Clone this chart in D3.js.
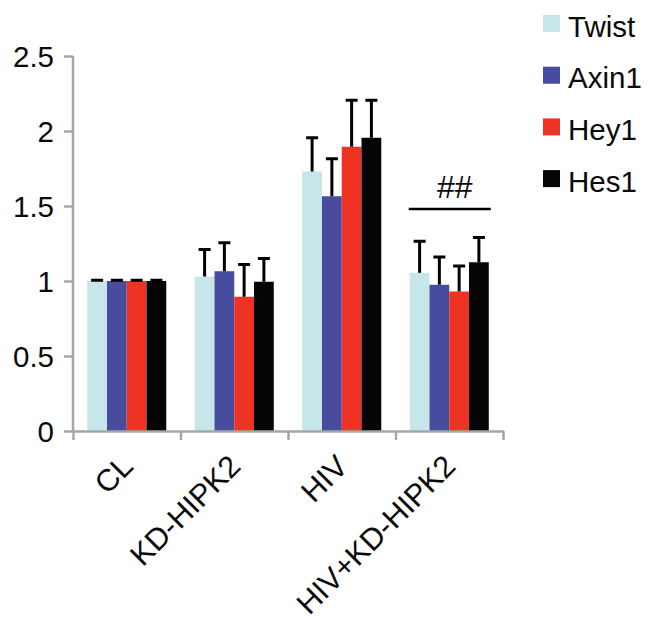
<!DOCTYPE html>
<html>
<head>
<meta charset="utf-8">
<script src="https://cdn.jsdelivr.net/npm/d3@7/dist/d3.min.js"></script>
<style>
  html, body { margin: 0; padding: 0; background: #fff; }
  svg { display: block; font-family: "Liberation Sans", Arial, sans-serif; }
</style>
</head>
<body>
<svg id="chart" width="650" height="622"></svg>
<script>
// Relative expression per condition (mean and error)
const categories = ["CL", "KD-HIPK2", "HIV", "HIV+KD-HIPK2"];
const series = ["Twist", "Axin1", "Hey1", "Hes1"];
const colors = ["#c7e6ea", "#474c9f", "#ee3224", "#050505"];

const twistMean = [1.00, 1.03, 1.73, 1.055];
const axin1Mean = [1.00, 1.065, 1.565, 0.975];
const hey1Mean  = [1.00, 0.895, 1.895, 0.93];
const hes1Mean  = [1.00, 0.995, 1.955, 1.125];

const twistErr = [0.005, 0.18, 0.225, 0.21];
const axin1Err = [0.005, 0.19, 0.25, 0.185];
const hey1Err  = [0.005, 0.215, 0.31, 0.17];
const hes1Err  = [0.005, 0.155, 0.25, 0.165];

const yTicks = [0, 0.5, 1, 1.5, 2, 2.5];
const yTickLabels = ["0", "0.5", "1", "1.5", "2", "2.5"];

// Significance marker over one group
const sigCategory = "HIV+KD-HIPK2";
const sigLabel = "##";
const sigLevel = 1.48;

const means = [twistMean, axin1Mean, hey1Mean, hes1Mean];
const errs = [twistErr, axin1Err, hey1Err, hes1Err];

const rows = [];
categories.forEach((c, ci) => {
  series.forEach((s, si) => {
    rows.push({ cat: c, ser: s, si, value: means[si][ci], err: errs[si][ci] });
  });
});

const svg = d3.select("#chart");
const plotLeft = 73, plotRight = 503, plotTop = 56, plotBottom = 431;
const fontSize = 29.5;
const catFontSize = 30.5;
const axisColor = "#a6a6a6";
const textColor = "#0a0a0a";

const x0 = d3.scaleBand().domain(categories).range([plotLeft, plotRight]).paddingInner(0).paddingOuter(0);
const x1 = d3.scaleBand().domain(series).range([0, x0.bandwidth()]).paddingInner(0).paddingOuter(0.72);
const y = d3.scaleLinear().domain([0, 2.5]).range([plotBottom, plotTop]);
const color = d3.scaleOrdinal().domain(series).range(colors);

// Bars
const g = svg.append("g");
g.selectAll("rect.bar")
  .data(rows)
  .join("rect")
  .attr("class", "bar")
  .attr("x", d => x0(d.cat) + x1(d.ser))
  .attr("y", d => y(d.value))
  .attr("width", x1.bandwidth())
  .attr("height", d => y(0) - y(d.value))
  .attr("fill", d => color(d.ser));

// Upper error bars
const eb = g.selectAll("g.err").data(rows).join("g").attr("class", "err");
eb.append("line")
  .attr("x1", d => x0(d.cat) + x1(d.ser) + x1.bandwidth() / 2)
  .attr("x2", d => x0(d.cat) + x1(d.ser) + x1.bandwidth() / 2)
  .attr("y1", d => y(d.value))
  .attr("y2", d => y(d.value + d.err))
  .attr("stroke", "#000").attr("stroke-width", 3);
eb.append("line")
  .attr("x1", d => x0(d.cat) + x1(d.ser) + x1.bandwidth() / 2 - 6)
  .attr("x2", d => x0(d.cat) + x1(d.ser) + x1.bandwidth() / 2 + 6)
  .attr("y1", d => y(d.value + d.err))
  .attr("y2", d => y(d.value + d.err))
  .attr("stroke", "#000").attr("stroke-width", 3);

// Y axis
const yAxis = d3.axisLeft(y).tickValues(yTicks).tickFormat((d, i) => yTickLabels[i]).tickSize(9).tickPadding(10);
const ya = svg.append("g").attr("transform", `translate(${plotLeft},0)`).call(yAxis);
ya.select(".domain").attr("stroke", axisColor).attr("stroke-width", 2.5).attr("d", `M0,${plotTop}V${plotBottom}`);
ya.selectAll(".tick line").attr("stroke", axisColor).attr("stroke-width", 2.5);
ya.selectAll(".tick text").attr("fill", textColor).attr("dy", "0.36em")
  .style("font-size", fontSize + "px").style("font-family", "Liberation Sans, Arial, sans-serif");

// X axis with ticks at group boundaries
const boundaries = categories.map(c => x0(c)).concat([plotRight]);
const xb = d3.scaleLinear().domain([plotLeft, plotRight]).range([plotLeft, plotRight]);
const xAxis = d3.axisBottom(xb).tickValues(boundaries).tickFormat("").tickSize(9).tickSizeOuter(0);
const xa = svg.append("g").attr("transform", `translate(0,${plotBottom})`).call(xAxis);
xa.select(".domain").attr("stroke", axisColor).attr("stroke-width", 2.5);
xa.selectAll(".tick line").attr("stroke", axisColor).attr("stroke-width", 2.5);

// Rotated category labels
svg.append("g").selectAll("text")
  .data(categories)
  .join("text")
  .attr("transform", d => `translate(${x0(d) + x0.bandwidth() / 2 + 8},${plotBottom + 37}) rotate(-45)`)
  .attr("text-anchor", "end")
  .attr("fill", textColor)
  .style("font-size", catFontSize + "px")
  .text(d => d);

// Significance bracket
const sx0 = x0(sigCategory) + x1(series[0]) - 1;
const sx1 = x0(sigCategory) + x1(series[series.length - 1]) + x1.bandwidth() + 2;
svg.append("line")
  .attr("x1", sx0).attr("x2", sx1)
  .attr("y1", y(sigLevel)).attr("y2", y(sigLevel))
  .attr("stroke", "#000").attr("stroke-width", 2.5);
svg.append("text")
  .attr("x", (sx0 + sx1) / 2 + 5).attr("y", y(sigLevel) - 11)
  .attr("text-anchor", "middle")
  .attr("fill", textColor)
  .style("font-size", "32px")
  .text(sigLabel);

// Legend
const lg = svg.append("g").selectAll("g").data(series).join("g")
  .attr("transform", (d, i) => `translate(543,${23.5 + i * 51.7})`);
lg.append("rect").attr("x", 0).attr("y", -8.5).attr("width", 17).attr("height", 17).attr("fill", d => color(d));
lg.append("text").attr("x", 25).attr("y", 13).attr("fill", textColor).style("font-size", fontSize + "px").text(d => d);
</script>
</body>
</html>
